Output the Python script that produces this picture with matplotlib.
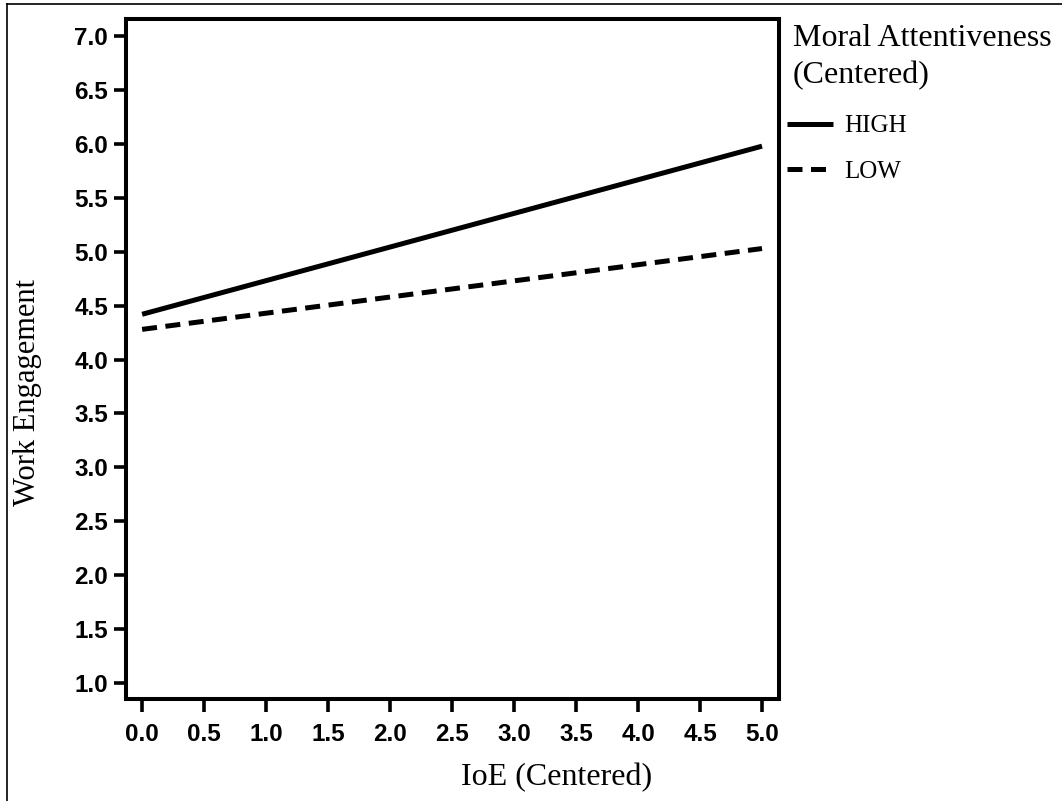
import numpy as np
import matplotlib
matplotlib.use('Agg')
import matplotlib.pyplot as plt
from matplotlib.lines import Line2D

# data
ioe = [0.0, 5.0]
high_ma = [4.42, 5.98]
low_ma = [4.28, 5.03]
series_names = ['HIGH', 'LOW']
x_ticks = np.arange(0.0, 5.01, 0.5)
y_ticks = np.arange(1.0, 7.01, 0.5)

serif = 'Liberation Serif'
sans = 'Liberation Sans'

fig = plt.figure(figsize=(10.62, 8.01), dpi=100)
ax = fig.add_axes([126/1062, 1-699/801, (779-126)/1062, (699-19)/801])

lw = 3.6
dash = (0, (3.0, 1.7))
ax.plot(ioe, high_ma, color='black', lw=lw, solid_capstyle='butt', label=series_names[0])
ax.plot(ioe, low_ma, color='black', lw=lw, linestyle=dash,
        dash_capstyle='butt', label=series_names[1])

ax.set_xlim(-0.13, 5.137)
ax.set_ylim(0.85, 7.16)
ax.set_xticks(x_ticks)
ax.set_yticks(y_ticks)
ax.set_xticklabels([f'{v:.1f}' for v in x_ticks])
ax.set_yticklabels([f'{v:.1f}' for v in y_ticks])
for lab in ax.get_xticklabels() + ax.get_yticklabels():
    lab.set_fontfamily(sans)
    lab.set_fontweight('bold')
    lab.set_fontsize(17.5)
ax.tick_params(direction='out', length=9, width=2.6, pad=4, top=False, right=False)
ax.tick_params(axis='x', pad=8)
for sp in ax.spines.values():
    sp.set_linewidth(2.9)

fig.text(28/1062, 1-392/801, 'Work Engagement', rotation=90, ha='center', va='center',
         family=serif, fontsize=22)
fig.text(557/1062, 1-778/801, 'IoE (Centered)', ha='center', va='center',
         family=serif, fontsize=23)

# legend outside on the right
handles = [Line2D([], [], color='black', lw=lw, solid_capstyle='butt'),
           Line2D([], [], color='black', lw=lw, linestyle=dash, dash_capstyle='butt')]
leg = fig.legend(handles, series_names, loc='upper left', bbox_to_anchor=(787/1062, 1-115/801),
                 frameon=False, prop={'family': serif, 'size': 18}, handlelength=1.85,
                 handletextpad=0.45, labelspacing=0.9, borderaxespad=0, borderpad=0)
fig.text(793/1062, 1-57/801, 'Moral Attentiveness\n(Centered)', ha='left', va='center',
         family=serif, fontsize=23, linespacing=1.35)

# thin border of the original figure
fig.add_artist(Line2D([7/1062, 7/1062], [0, 1-4/801], color='black', lw=1.2))
fig.add_artist(Line2D([7/1062, 1], [1-4/801, 1-4/801], color='black', lw=1.2))

plt.savefig('out.png', dpi=100)
